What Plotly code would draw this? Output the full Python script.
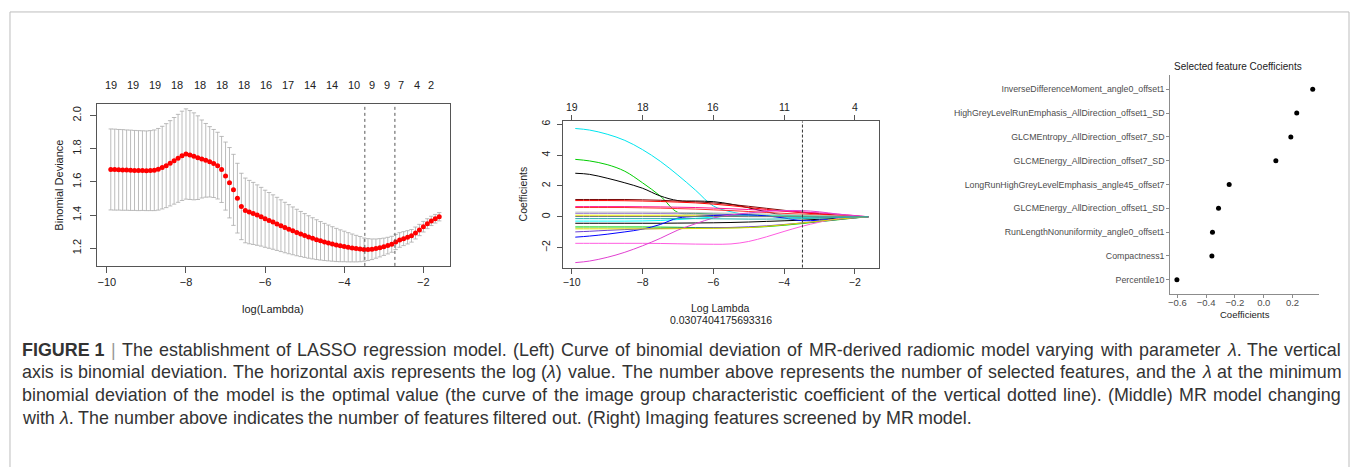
import plotly.graph_objects as go

W, H = 1356, 467

# ---------------- Left panel: cross-validated binomial deviance ----------------
log_lambda = [
    -9.9, -9.8, -9.7, -9.6, -9.5, -9.4, -9.3, -9.2, -9.1, -9.0,
    -8.9, -8.8, -8.7, -8.6, -8.5, -8.4, -8.3, -8.2, -8.1, -8.0,
    -7.9, -7.8, -7.7, -7.6, -7.5, -7.4, -7.3, -7.2, -7.1, -7.0,
    -6.9, -6.8, -6.7, -6.6, -6.5, -6.4, -6.3, -6.2, -6.1, -6.0,
    -5.9, -5.8, -5.7, -5.6, -5.5, -5.4, -5.3, -5.2, -5.1, -5.0,
    -4.9, -4.8, -4.7, -4.6, -4.5, -4.4, -4.3, -4.2, -4.1, -4.0,
    -3.9, -3.8, -3.7, -3.6, -3.5, -3.4, -3.3, -3.2, -3.1, -3.0,
    -2.9, -2.8, -2.7, -2.6, -2.5, -2.4, -2.3, -2.2, -2.1, -2.0,
    -1.9, -1.8, -1.7, -1.6]
cv_mean = [
    1.675, 1.674, 1.673, 1.672, 1.671, 1.670, 1.669, 1.668, 1.668, 1.667,
    1.668, 1.670, 1.676, 1.686, 1.698, 1.712, 1.727, 1.742, 1.757, 1.768,
    1.762, 1.754, 1.746, 1.738, 1.730, 1.721, 1.711, 1.698, 1.675, 1.635,
    1.595, 1.552, 1.502, 1.452, 1.428, 1.418, 1.410, 1.400, 1.390, 1.378,
    1.368, 1.358, 1.347, 1.336, 1.325, 1.315, 1.305, 1.295, 1.286, 1.277,
    1.268, 1.260, 1.252, 1.245, 1.238, 1.232, 1.226, 1.220, 1.215, 1.211,
    1.206, 1.202, 1.198, 1.195, 1.192, 1.192, 1.194, 1.198, 1.203, 1.209,
    1.216, 1.224, 1.238, 1.250, 1.258, 1.266, 1.275, 1.292, 1.310, 1.330,
    1.348, 1.365, 1.378, 1.390]
cv_se = [
    0.244, 0.244, 0.243, 0.243, 0.242, 0.242, 0.241, 0.241, 0.240, 0.240,
    0.241, 0.243, 0.246, 0.249, 0.253, 0.257, 0.261, 0.265, 0.269, 0.272,
    0.268, 0.262, 0.252, 0.235, 0.222, 0.212, 0.205, 0.201, 0.199, 0.205,
    0.212, 0.214, 0.210, 0.200, 0.195, 0.191, 0.187, 0.182, 0.177, 0.172,
    0.168, 0.164, 0.160, 0.156, 0.152, 0.148, 0.144, 0.140, 0.136, 0.132,
    0.128, 0.124, 0.120, 0.116, 0.112, 0.108, 0.104, 0.100, 0.096, 0.092,
    0.088, 0.084, 0.080, 0.076, 0.070, 0.066, 0.062, 0.058, 0.055, 0.052,
    0.050, 0.048, 0.046, 0.044, 0.042, 0.040, 0.038, 0.036, 0.034, 0.032,
    0.030, 0.028, 0.026, 0.025]
cv_count_x = [-9.89, -9.33, -8.78, -8.22, -7.65, -7.09, -6.54, -5.98, -5.41,
              -4.86, -4.31, -3.75, -3.29, -2.91, -2.56, -2.17, -1.80]
cv_counts = [19, 19, 19, 18, 18, 18, 18, 16, 17, 14, 14, 10, 9, 9, 7, 4, 2]
log_lambda_min = -3.48
log_lambda_1se = -2.72
left_xticks = [-10, -8, -6, -4, -2]
left_yticks = [1.2, 1.4, 1.6, 1.8, 2.0]

# ---------------- Middle panel: coefficient paths ----------------
path_x = [-9.9, -9.5, -9.0, -8.5, -8.0, -7.5, -7.0, -6.5, -6.0, -5.5,
          -5.0, -4.5, -4.0, -3.5, -3.0, -2.5, -2.0, -1.62]
coef_paths = [
    [5.72, 5.62, 5.35, 4.95, 4.35, 3.60, 2.70, 1.72, 0.70, 0.32, 0.12, 0.03, -0.03, -0.05, -0.03, -0.01, 0.0, 0.0],
    [3.72, 3.62, 3.38, 2.95, 2.20, 1.35, 0.28, 0.22, 0.18, 0.15, 0.12, 0.10, 0.07, 0.05, 0.03, 0.01, 0.0, 0.0],
    [2.82, 2.75, 2.50, 2.20, 1.85, 1.35, 1.05, 1.02, 0.98, 0.82, 0.58, 0.32, 0.10, 0.03, 0.0, 0.0, 0.0, 0.0],
    [1.12, 1.12, 1.12, 1.12, 1.10, 1.07, 1.02, 0.97, 0.90, 0.80, 0.68, 0.55, 0.42, 0.30, 0.20, 0.10, 0.04, 0.0],
    [1.05, 1.05, 1.05, 1.04, 1.02, 0.99, 0.95, 0.90, 0.82, 0.72, 0.60, 0.48, 0.36, 0.26, 0.17, 0.09, 0.03, 0.0],
    [0.66, 0.66, 0.66, 0.66, 0.65, 0.64, 0.62, 0.60, 0.56, 0.52, 0.47, 0.42, 0.37, 0.31, 0.25, 0.17, 0.08, 0.0],
    [0.60, 0.60, 0.60, 0.60, 0.58, 0.56, 0.53, 0.50, 0.45, 0.40, 0.34, 0.28, 0.22, 0.17, 0.12, 0.07, 0.03, 0.0],
    [0.30, 0.30, 0.30, 0.30, 0.30, 0.29, 0.28, 0.27, 0.25, 0.23, 0.21, 0.18, 0.15, 0.12, 0.08, 0.05, 0.02, 0.0],
    [0.22, 0.22, 0.22, 0.22, 0.22, 0.21, 0.20, 0.18, 0.16, 0.13, 0.10, 0.08, 0.06, 0.04, 0.02, 0.01, 0.0, 0.0],
    [0.10, 0.10, 0.10, 0.10, 0.10, 0.10, 0.10, 0.10, 0.09, 0.08, 0.07, 0.06, 0.05, 0.04, 0.03, 0.02, 0.01, 0.0],
    [-0.28, -0.28, -0.28, -0.28, -0.27, -0.24, -0.18, -0.10, -0.02, 0.04, 0.06, 0.06, 0.05, 0.04, 0.03, 0.02, 0.01, 0.0],
    [-0.42, -0.42, -0.42, -0.42, -0.42, -0.42, -0.41, -0.40, -0.39, -0.37, -0.34, -0.30, -0.26, -0.22, -0.16, -0.10, -0.04, 0.0],
    [-0.66, -0.66, -0.66, -0.66, -0.66, -0.67, -0.68, -0.70, -0.71, -0.71, -0.69, -0.64, -0.55, -0.44, -0.32, -0.20, -0.08, 0.0],
    [-1.32, -1.25, -1.13, -0.98, -0.80, -0.50, -0.08, 0.02, 0.08, 0.12, 0.12, 0.06, -0.08, -0.25, -0.22, -0.14, -0.06, 0.0],
    [-0.98, -0.94, -0.88, -0.83, -0.79, -0.76, -0.74, -0.73, -0.71, -0.69, -0.65, -0.59, -0.50, -0.40, -0.30, -0.18, -0.07, 0.0],
    [-1.72, -1.72, -1.72, -1.72, -1.72, -1.73, -1.75, -1.77, -1.78, -1.76, -1.60, -1.30, -0.95, -0.62, -0.35, -0.12, -0.03, 0.0],
    [-2.97, -2.87, -2.63, -2.30, -1.88, -1.40, -0.86, -0.45, -0.08, 0.12, 0.25, 0.35, 0.40, 0.40, 0.32, 0.18, 0.07, 0.0],
    [-0.78, -0.78, -0.78, -0.78, -0.78, -0.78, -0.77, -0.76, -0.75, -0.73, -0.70, -0.62, -0.52, -0.40, -0.28, -0.16, -0.06, 0.0],
    [0.02, 0.02, 0.02, 0.02, 0.02, 0.02, 0.02, 0.02, 0.02, 0.02, 0.01, 0.01, 0.01, 0.0, 0.0, 0.0, 0.0, 0.0],
    [-0.12, -0.12, -0.12, -0.12, -0.12, -0.12, -0.12, -0.12, -0.13, -0.14, -0.15, -0.15, -0.14, -0.12, -0.09, -0.05, -0.02, 0.0],
]
path_colors = ["#00E5EE", "#00CD00", "#000000", "#7A0A0A", "#FF0000", "#FF1493",
               "#FF3030", "#BEBEBE", "#9A7BD8", "#E8E800", "#00FFFF", "#000000",
               "#00CD00", "#0000FF", "#6A3FCF", "#FF5CE0", "#E040D0", "#D8D800",
               "#777777", "#20B2AA"]
path_top_x = [-10, -8, -6, -4, -2]
path_top_counts = [19, 18, 16, 11, 4]
mid_xticks = [-10, -8, -6, -4, -2]
mid_yticks = [-2, 0, 2, 4, 6]
lambda_text = "0.0307404175693316"

# ---------------- Right panel: selected feature coefficients ----------------
features = [
    "InverseDifferenceMoment_angle0_offset1",
    "HighGreyLevelRunEmphasis_AllDirection_offset1_SD",
    "GLCMEntropy_AllDirection_offset7_SD",
    "GLCMEnergy_AllDirection_offset7_SD",
    "LongRunHighGreyLevelEmphasis_angle45_offset7",
    "GLCMEnergy_AllDirection_offset1_SD",
    "RunLengthNonuniformity_angle0_offset1",
    "Compactness1",
    "Percentile10",
]
feature_coefs = [0.340, 0.229, 0.188, 0.084, -0.240, -0.314, -0.356, -0.360, -0.603]
right_xticks = [-0.6, -0.4, -0.2, 0.0, 0.2]

# ---------------- Caption (first three lines justified) ----------------
caption_lines = [
    "FIGURE 1 | The establishment of LASSO regression model. (Left) Curve of binomial deviation of MR-derived radiomic model varying with parameter λ. The vertical",
    "axis is binomial deviation. The horizontal axis represents the log (λ) value. The number above represents the number of selected features, and the λ at the minimum",
    "binomial deviation of the model is the optimal value (the curve of the image group characteristic coefficient of the vertical dotted line). (Middle) MR model changing",
    "with λ. The number above indicates the number of features filtered out. (Right) Imaging features screened by MR model.",
]
caption_justified = [True, True, True, False]


def px(xp):
    return xp / W


def py(yp):
    return 1 - yp / H


FONT = "Liberation Sans, Arial, sans-serif"
AX = "#555555"

fig = go.Figure()

fig.add_trace(go.Scatter(
    x=log_lambda, y=cv_mean, mode="markers",
    marker=dict(color="#FF0000", size=5),
    error_y=dict(type="data", array=cv_se, color="#ABABAB", thickness=0.8, width=2.2),
    xaxis="x", yaxis="y", showlegend=False, hoverinfo="skip"))

for vals, col in zip(coef_paths, path_colors):
    fig.add_trace(go.Scatter(
        x=path_x, y=vals, mode="lines",
        line=dict(color=col, width=1, shape="spline", smoothing=1.0),
        xaxis="x2", yaxis="y2", showlegend=False, hoverinfo="skip"))

fig.add_trace(go.Scatter(
    x=feature_coefs, y=features, mode="markers",
    marker=dict(color="black", size=5),
    xaxis="x3", yaxis="y3", showlegend=False, hoverinfo="skip"))

box_common = dict(showgrid=False, zeroline=False, showline=True, linecolor=AX,
                  linewidth=1, ticks="outside", ticklen=6, tickcolor=AX,
                  tickfont=dict(family=FONT, size=11, color="#222"))
mid_common = {**box_common, "ticklen": 5, "tickfont": dict(family=FONT, size=10.5, color="#222")}

fig.update_layout(
    width=W, height=H, margin=dict(l=0, r=0, t=0, b=0),
    paper_bgcolor="white", plot_bgcolor="white",
    xaxis=dict(domain=[px(95), px(449)], range=[-10.252, -1.319], anchor="y",
               tickvals=left_xticks, mirror=True, **box_common),
    yaxis=dict(domain=[py(265), py(102)], range=[1.094, 2.072], anchor="x",
               tickvals=left_yticks, tickformat=".1f", tickangle=-90, mirror=True,
               ticklabelstandoff=4, **box_common),
    xaxis2=dict(domain=[px(561.7), px(878.5)], range=[-10.251, -1.311], anchor="y2",
                tickvals=mid_xticks, mirror="ticks", **mid_common),
    yaxis2=dict(domain=[py(266.7), py(120)], range=[-3.29, 6.174], anchor="x2",
                tickvals=mid_yticks, tickangle=-90, mirror=True, ticklabelstandoff=3,
                **mid_common),
    xaxis3=dict(domain=[px(1170), px(1319)], range=[-0.649, 0.384], anchor="y3",
                tickvals=right_xticks, tickformat=".1f", showgrid=False, zeroline=False,
                showline=True, linecolor="#8c8c8c", linewidth=1, ticks="outside",
                ticklen=3, tickcolor="#8c8c8c", ticklabelstandoff=-3,
                tickfont=dict(family=FONT, size=9.5, color="#4d4d4d")),
    yaxis3=dict(domain=[py(293.3), py(73.3)], anchor="x3", type="category",
                categoryorder="array", categoryarray=features, range=[8.6, -0.6],
                showgrid=False, zeroline=False, showline=True, linecolor="#8c8c8c",
                linewidth=1, ticks="outside", ticklen=3, tickcolor="#8c8c8c",
                tickfont=dict(family=FONT, size=8.8, color="#4d4d4d")),
)

shapes = []
shapes.append(dict(type="rect", xref="paper", yref="paper", x0=px(8), x1=px(1349),
                   y0=-0.05, y1=py(10), line=dict(color="#BDBDBD", width=1)))
for v in (log_lambda_min, log_lambda_1se):
    shapes.append(dict(type="line", xref="x", yref="y domain", x0=v, x1=v, y0=0, y1=1,
                       line=dict(color="#555555", width=1, dash="dot")))
shapes.append(dict(type="line", xref="x2", yref="y2 domain", x0=log_lambda_min, x1=log_lambda_min,
                   y0=0, y1=1, line=dict(color="#333333", width=1, dash="3px,2px")))
fig.update_layout(shapes=shapes)


def txt(x, y, text, size, xref="paper", xanchor="center", angle=0, color="#222"):
    return dict(x=x, y=y, xref=xref, yref="paper", text=text, showarrow=False,
                xanchor=xanchor, yanchor="middle", textangle=angle,
                font=dict(family=FONT, size=size, color=color))


ann = []
for xv, c in zip(cv_count_x, cv_counts):
    ann.append(txt(xv, py(83), str(c), 11, xref="x"))
ann.append(txt(px(57), py(183.5), "Binomial Deviance", 11, angle=-90))
ann.append(txt(px(271), py(308), "log(Lambda)", 11))

for xv, c in zip(path_top_x, path_top_counts):
    ann.append(txt(xv, py(105), str(c), 10.5, xref="x2"))
ann.append(txt(px(522), py(193), "Coefficients", 10.5, angle=-90))
ann.append(txt(px(720), py(307), "Log Lambda", 10.5))
ann.append(txt(px(720), py(319), lambda_text, 10.5))

ann.append(txt(px(1172), py(65), "Selected feature Coefficients", 10, xanchor="left"))
ann.append(txt(px(1245), py(314), "Coefficients", 9.5))

# Arial / Liberation Sans advance widths (1/1000 em) for word-by-word justification
_GLYPH = {}
for chars, wdt in [("ijl", 222), ("ft .,I", 278), ("r()-", 333), ("|", 260),
                   ("cksvxyzJ", 500), ("λ", 520),
                   ("abdeghnopqu0123456789L", 556), ("FTZ", 611),
                   ("ABEKPSVXY", 667), ("wCDHNRU", 722), ("GOQ", 778),
                   ("mM", 833), ("W", 944)]:
    for ch in chars:
        _GLYPH[ch] = wdt


def text_width(s, size):
    return sum(_GLYPH.get(ch, 556) for ch in s) * size / 1000.0


def markup(word):
    if word == "FIGURE 1":
        return "<b>FIGURE 1</b>"
    if word == "|":
        return "<span style='color:#999'>|</span>"
    return word.replace("λ", "<i>λ</i>")


CAP_L, CAP_R, CAP_SIZE = 18, 1339, 17.9
for i, (line, just) in enumerate(zip(caption_lines, caption_justified)):
    words = line.split(" ")
    if words[:2] == ["FIGURE", "1"]:
        words = ["FIGURE 1"] + words[2:]
    widths = [text_width(w, CAP_SIZE) for w in words]
    space = text_width(" ", CAP_SIZE)
    if just and len(words) > 1:
        space = (CAP_R - CAP_L - sum(widths)) / (len(words) - 1)
    xcur = CAP_L
    yv = py(349 + 23 * i)
    for w, wd in zip(words, widths):
        ann.append(txt(px(xcur), yv, markup(w), CAP_SIZE, xanchor="left", color="#333"))
        xcur += wd + space
fig.update_layout(annotations=ann)

fig.write_html("out.html", config={"displayModeBar": False})
